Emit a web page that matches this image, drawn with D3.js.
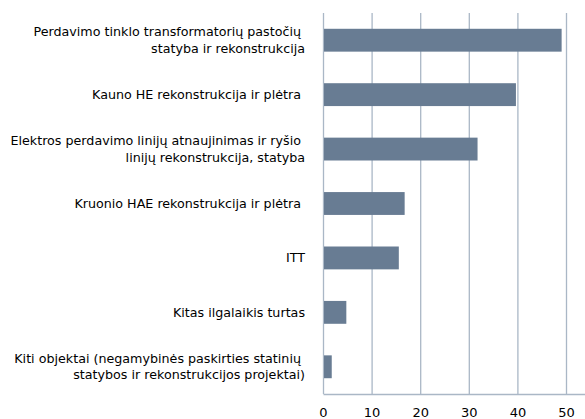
<!DOCTYPE html>
<html>
<head>
<meta charset="utf-8">
<script src="https://cdn.jsdelivr.net/npm/d3@7"></script>
<style>
  html, body { margin: 0; padding: 0; background: #fff; }
  svg { display: block; }
  text { font-family: "DejaVu Sans", Verdana, sans-serif; fill: #000; }
</style>
</head>
<body>
<div id="chart"></div>
<script>
const categories = [
  ["Perdavimo tinklo transformatorių pastočių ", "statyba ir rekonstrukcija"],
  ["Kauno HE rekonstrukcija ir plėtra "],
  ["Elektros perdavimo linijų atnaujinimas ir ryšio ", "linijų rekonstrukcija, statyba"],
  ["Kruonio HAE rekonstrukcija ir plėtra "],
  ["ITT"],
  ["Kitas ilgalaikis turtas"],
  ["Kiti objektai (negamybinės paskirties statinių ", "statybos ir rekonstrukcijos projektai)"]
];
const values = [49.1, 39.7, 31.8, 16.8, 15.6, 4.8, 1.8];
const tickValues = [0, 10, 20, 30, 40, 50];
const gridValues = [0, 10, 20, 30, 40, 50, 60];

const W = 585, H = 419;
const margin = { top: 13, left: 323 };
const plotBottom = 394;
const plotRight = 323 + 6 * 48.6;

const svg = d3.select("#chart").append("svg")
  .attr("width", W).attr("height", H);

const x = d3.scaleLinear().domain([0, 60]).range([margin.left, plotRight]);
const y = d3.scaleBand().domain(d3.range(categories.length))
  .range([margin.top, plotBottom]).paddingInner(0.58).paddingOuter(0.29);

// gridlines
svg.append("g").selectAll("line").data(gridValues).join("line")
  .attr("x1", d => x(d) + 0.5).attr("x2", d => x(d) + 0.5)
  .attr("y1", margin.top).attr("y2", plotBottom)
  .attr("stroke", "#aab7c6").attr("stroke-width", 1.3);

// bars
svg.append("g").selectAll("rect").data(values).join("rect")
  .attr("x", x(0) + 1)
  .attr("y", (d, i) => y(i))
  .attr("width", d => x(d) - x(0) - 1)
  .attr("height", y.bandwidth())
  .attr("fill", "#687c93");

// x axis
const xAxis = d3.axisBottom(x).tickValues(tickValues).tickSize(0).tickPadding(14);
const gx = svg.append("g").attr("transform", `translate(0,${plotBottom})`).call(xAxis);
gx.select(".domain").attr("stroke", "#aab7c6").attr("stroke-width", 1.3);
gx.selectAll("text").attr("font-size", "13px").attr("font-family", "DejaVu Sans").attr("fill", "#000");

// category labels
const lineH = 16.5;
const lab = svg.append("g");
categories.forEach((lines, i) => {
  const cy = y(i) + y.bandwidth() / 2;
  const n = lines.length;
  const t = lab.append("text")
    .attr("text-anchor", "end")
    .attr("font-size", "12.7px")
    .style("white-space", "pre")
    .attr("x", 305);
  lines.forEach((ln, j) => {
    t.append("tspan")
      .attr("x", 305)
      .attr("y", cy + (j - (n - 1) / 2) * lineH)
      .attr("dy", "0.35em")
      .text(ln);
  });
});
</script>
</body>
</html>
